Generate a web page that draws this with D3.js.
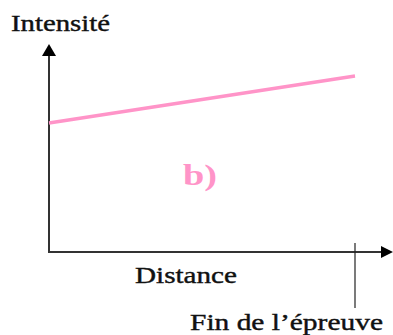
<!DOCTYPE html>
<html>
<head>
<meta charset="utf-8">
<script src="https://cdn.jsdelivr.net/npm/d3@7"></script>
<style>
  body { margin: 0; background: #fff; }
  svg { display: block; }
  text { font-family: "Liberation Serif", "Times New Roman", serif; fill: #111; }
</style>
</head>
<body>
<div id="chart"></div>
<script>
// data
var distance = [0, 100];        // start .. fin de l'épreuve
var intensite = [64.5, 88];     // intensity along the race
var labels = ["Intensité", "Distance", "Fin de l\u2019épreuve", "b)"];

var width = 393, height = 335;

var svg = d3.select("#chart").append("svg")
  .attr("width", width)
  .attr("height", height);

// scales
var x = d3.scaleLinear().domain([0, 100]).range([49, 355]);
var y = d3.scaleLinear().domain([0, 100]).range([252, 52]);

// axes lines
svg.append("line")
  .attr("x1", x(0)).attr("y1", y(0))
  .attr("x2", x(0)).attr("y2", 50)
  .attr("stroke", "#333").attr("stroke-width", 2);
svg.append("line")
  .attr("x1", x(0) - 1).attr("y1", y(0))
  .attr("x2", 386).attr("y2", y(0))
  .attr("stroke", "#333").attr("stroke-width", 2);

// arrow heads
svg.append("path")
  .attr("d", "M" + x(0) + ",44 L" + (x(0) - 7) + ",56 L" + (x(0) + 7) + ",56 Z")
  .attr("fill", "#000");
svg.append("path")
  .attr("d", "M393," + y(0) + " L381," + (y(0) - 6) + " L381," + (y(0) + 6) + " Z")
  .attr("fill", "#000");

// end of race tick
svg.append("line")
  .attr("x1", x(100)).attr("y1", 243)
  .attr("x2", x(100)).attr("y2", 308)
  .attr("stroke", "#222").attr("stroke-width", 1.2);

// intensity line
var line = d3.line()
  .x(function(d){ return x(d[0]); })
  .y(function(d){ return y(d[1]); });
svg.append("path")
  .datum(d3.zip(distance, intensite))
  .attr("d", line)
  .attr("fill", "none")
  .attr("stroke", "#ff94c8")
  .attr("stroke-width", 3.5);

// texts (stretched horizontally like the original)
function label(txt, xp, yp, size, len){
  return svg.append("text")
    .attr("x", xp).attr("y", yp)
    .attr("font-size", size)
    .attr("textLength", len).attr("lengthAdjust", "spacingAndGlyphs")
    .style("stroke", "#111").style("stroke-width", 0.4)
    .text(txt);
}
label(labels[0], 11, 31, 23, 99);
label(labels[1], 135, 283, 23, 102);
label(labels[2], 190, 330, 23, 193);

svg.append("text")
  .attr("x", 183).attr("y", 185)
  .attr("font-size", 29)
  .attr("font-weight", "bold")
  .attr("textLength", 34).attr("lengthAdjust", "spacingAndGlyphs")
  .style("fill", "#ff94c8")
  .text(labels[3]);
</script>
</body>
</html>
